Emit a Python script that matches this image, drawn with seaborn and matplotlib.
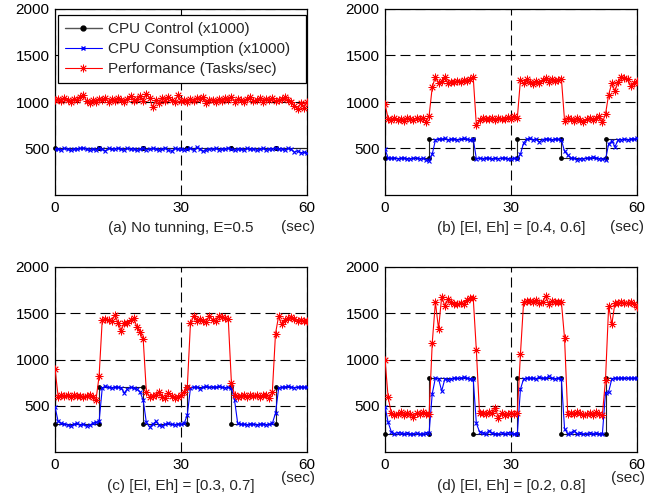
import numpy as np
import matplotlib
matplotlib.use("Agg")
import matplotlib.pyplot as plt
from matplotlib.lines import Line2D
import seaborn as sns

# ---------------- data ----------------
x_ticks = [0, 30, 60]
y_ticks = [500, 1000, 1500, 2000]
captions = ["(a) No tunning, E=0.5", "(b) [El, Eh] = [0.4, 0.6]",
            "(c) [El, Eh] = [0.3, 0.7]", "(d) [El, Eh] = [0.2, 0.8]"]
series_names = ["CPU Control (x1000)", "CPU Consumption (x1000)",
                "Performance (Tasks/sec)"]

ctrl_times = [0, 10.5, 21, 31.5, 42, 52.5]
ctrl_a = [500, 500, 500, 500, 500, 500]
ctrl_b = [400, 600, 400, 600, 400, 600]
ctrl_c = [300, 700, 300, 700, 300, 700]
ctrl_d = [200, 800, 200, 800, 200, 800]

cons_a = [490, 495, 485, 500, 490, 480, 495, 490, 500, 505,
          490, 480, 495, 485, 500, 490, 475, 500, 490, 495,
          505, 490, 485, 500, 490, 495, 480, 490, 500, 485,
          490, 500, 495, 485, 490, 505, 480, 470, 500, 490,
          495, 485, 490, 500, 480, 515, 490, 470, 485, 495,
          490, 500, 485, 495, 490, 505, 490, 480, 495, 490,
          485, 500, 490, 495, 480, 490, 500, 485, 495, 490,
          505, 490, 495, 485, 500, 490, 460, 475, 455, 460,
          450]
perf_a = [1020, 1030, 1015, 1040, 1025, 1000, 1030, 1020, 1050, 1075,
          1010, 990, 1020, 1005, 1030, 1020, 1040, 1000, 1030, 1010,
          1045, 1020, 1000, 1035, 1060, 1015, 1030, 1060, 1010, 1090,
          1040, 945, 1020, 990, 1045, 1010, 1050, 1020, 1000, 1070,
          1010, 1020, 1000, 1030, 1015, 1040, 1030, 1050, 990, 1020,
          1025, 1000, 1030, 1010, 1040, 1020, 1055, 1005, 1030, 1020,
          1000, 1030, 1050, 1010, 1020, 1040, 1000, 1030, 1020, 1040,
          1010, 1025, 1030, 1050, 1020, 1000, 960, 930, 985, 940,
          1000]

cons_b = [490, 400, 395, 400, 390, 395, 400, 385, 390, 395,
          400, 390, 395, 380, 370, 440, 590, 605, 600, 610,
          595, 600, 605, 590, 600, 610, 600, 595, 605, 390,
          395, 390, 400, 395, 385, 400, 390, 395, 400, 390,
          385, 395, 390, 440, 560, 600, 610, 595, 600, 570,
          595, 605, 600, 590, 605, 600, 590, 470, 430, 400,
          395, 380, 390, 385, 400, 395, 410, 400, 390, 385,
          380, 550, 580, 520, 590, 595, 600, 590, 605, 600,
          615]
perf_b = [980, 820, 810, 825, 805, 815, 800, 830, 820, 810,
          825, 815, 830, 790, 850, 1160, 1270, 1200, 1230, 1270,
          1200, 1220, 1210, 1230, 1220, 1240, 1230, 1250, 1270, 750,
          810, 830, 815, 820, 825, 810, 830, 815, 820, 840,
          820, 845, 825, 1240, 1200, 1250, 1210, 1190, 1230, 1200,
          1240, 1260, 1220, 1250, 1230, 1240, 1250, 800, 830, 815,
          800, 830, 810, 790, 815, 825, 805, 830, 850, 780,
          870, 1080, 1200, 1120, 1210, 1270, 1260, 1250, 1170, 1200,
          1230]

cons_c = [490, 330, 310, 305, 290, 280, 300, 310, 290, 300,
          280, 290, 310, 320, 330, 690, 710, 700, 690, 705,
          700, 690, 640, 680, 700, 690, 680, 650, 560, 320,
          270, 300, 330, 290, 280, 300, 310, 300, 295, 305,
          300, 310, 400, 690, 700, 705, 680, 700, 710, 700,
          705, 700, 710, 700, 695, 700, 690, 560, 310, 300,
          300, 295, 305, 300, 290, 300, 305, 295, 300, 310,
          420, 690, 700, 705, 710, 700, 695, 700, 705, 700,
          700]
perf_c = [900, 600, 620, 610, 615, 600, 620, 610, 605, 600,
          610, 620, 600, 560, 820, 1430, 1440, 1430, 1420, 1480,
          1400, 1310, 1400, 1400, 1430, 1450, 1350, 1300, 1220, 650,
          600, 610, 620, 650, 600, 580, 640, 610, 580, 600,
          620, 650, 700, 1390, 1470, 1420, 1440, 1420, 1410, 1470,
          1430, 1420, 1470, 1460, 1450, 1440, 750, 620, 600, 610,
          620, 600, 615, 610, 620, 600, 615, 620, 580, 650,
          1280, 1470, 1380, 1430, 1450, 1460, 1440, 1420, 1430, 1420,
          1420]

cons_d = [490, 320, 220, 200, 210, 205, 200, 210, 195, 200,
          205, 190, 200, 210, 210, 630, 800, 790, 660, 790,
          780, 790, 800, 795, 800, 810, 800, 790, 790, 310,
          220, 210, 200, 230, 205, 200, 195, 210, 200, 210,
          205, 200, 190, 680, 790, 800, 795, 800, 790, 810,
          800, 795, 820, 800, 790, 800, 790, 250, 200, 210,
          230, 200, 210, 195, 200, 210, 200, 205, 200, 190,
          640, 650, 790, 800, 795, 800, 800, 800, 795, 800,
          800]
perf_d = [1000, 590, 420, 400, 410, 430, 400, 420, 410, 380,
          420, 410, 430, 410, 410, 1180, 1620, 1330, 1680, 1580,
          1650, 1620, 1600, 1600, 1610, 1600, 1640, 1670, 1670, 1100,
          420, 420, 410, 430, 420, 480, 370, 420, 400, 410,
          420, 410, 420, 1060, 1620, 1630, 1630, 1620, 1640, 1610,
          1620, 1690, 1600, 1630, 1620, 1620, 1620, 1230, 410, 420,
          410, 430, 420, 400, 410, 420, 400, 430, 410, 400,
          780, 1580, 1380, 1610, 1610, 1620, 1610, 1610, 1620, 1600,
          1570]

panels = [(ctrl_a, cons_a, perf_a), (ctrl_b, cons_b, perf_b),
          (ctrl_c, cons_c, perf_c), (ctrl_d, cons_d, perf_d)]

# ---------------- style ----------------
sns.set_style("white")
plt.rcParams["font.family"] = ["Liberation Sans", "DejaVu Sans"]
FS = 11

W, H = 665, 498
boxes = [(55, 9, 307, 195), (385, 9, 637, 195),
         (55, 267, 307, 452), (385, 267, 637, 452)]
cap_pos = [(181, 228, 315, 227), (511, 228, 644, 227),
           (181, 486, 315, 478), (511, 486, 645, 478)]

AST = (8, 2, 0)
fig = plt.figure(figsize=(W / 100, H / 100), dpi=100)


def corners(times, levels, end):
    xs, ys = [], []
    for k, (tt, lv) in enumerate(zip(times, levels)):
        if k > 0:
            xs.append(tt)
            ys.append(levels[k - 1])
        xs.append(tt)
        ys.append(lv)
    xs.append(end)
    ys.append(levels[-1])
    return xs, ys


for idx, (box, (ctrl, cons, perf)) in enumerate(zip(boxes, panels)):
    l, t, r, b = box
    ax = fig.add_axes([l / W, 1 - b / H, (r - l) / W, (b - t) / H])
    ax.set_xlim(0, 60)
    ax.set_ylim(0, 2000)
    ax.set_xticks(x_ticks)
    ax.set_yticks(y_ticks)
    ax.grid(True, color="k", linestyle=(0, (9, 4.5)), linewidth=0.8)
    ax.set_axisbelow(True)
    for sp in ax.spines.values():
        sp.set_color("k")
        sp.set_linewidth(0.9)
    ax.tick_params(direction="in", length=2.5, width=0.8, labelsize=FS,
                   colors="k", pad=4)

    tt = np.linspace(0, 60, len(perf))
    cx, cy = corners(ctrl_times, ctrl, 60)
    sns.lineplot(x=cx, y=cy, ax=ax, estimator=None, sort=False,
                 color="#222222", linewidth=0.8, zorder=3)
    sns.scatterplot(x=cx[:-1], y=cy[:-1], ax=ax, color="k", s=12,
                    edgecolor="k", linewidth=0, zorder=4, clip_on=False)
    sns.lineplot(x=tt, y=cons, ax=ax, estimator=None, sort=False,
                 color="blue", linewidth=0.8, marker="x", markersize=3.5,
                 markeredgecolor="blue", markeredgewidth=0.8, zorder=5)
    sns.lineplot(x=tt, y=perf, ax=ax, estimator=None, sort=False,
                 color="red", linewidth=0.8, marker=AST, markersize=5.5,
                 markeredgecolor="red", markeredgewidth=0.6, zorder=6)
    ax.set_xlabel("")
    ax.set_ylabel("")

    cx0, cy0, sx, sy = cap_pos[idx]
    fig.text(cx0 / W, 1 - cy0 / H, captions[idx], ha="center", va="center",
             fontsize=FS)
    fig.text(sx / W, 1 - sy / H, "(sec)", ha="right", va="center",
             fontsize=FS)

    if idx == 0:
        handles = [
            Line2D([], [], color="#555555", lw=1.0, marker="o",
                   markersize=3.5, markerfacecolor="k", markeredgecolor="k"),
            Line2D([], [], color="blue", lw=0.8, marker="x", markersize=3.5,
                   markeredgecolor="blue"),
            Line2D([], [], color="red", lw=0.8, marker=AST, markersize=5.5,
                   markeredgecolor="red", markeredgewidth=0.6),
        ]
        leg = ax.legend(handles, series_names, loc="upper left",
                        bbox_to_anchor=(0.0119, 0.9677, 0.984, 0),
                        mode="expand", borderaxespad=0,
                        fontsize=FS, frameon=True, fancybox=False,
                        framealpha=1, edgecolor="k", handlelength=2.4,
                        handletextpad=0.45, labelspacing=0.4,
                        borderpad=0.45, numpoints=1)
        leg.get_frame().set_linewidth(0.9)
        leg.set_zorder(10)

fig.savefig("out.png", dpi=100)
